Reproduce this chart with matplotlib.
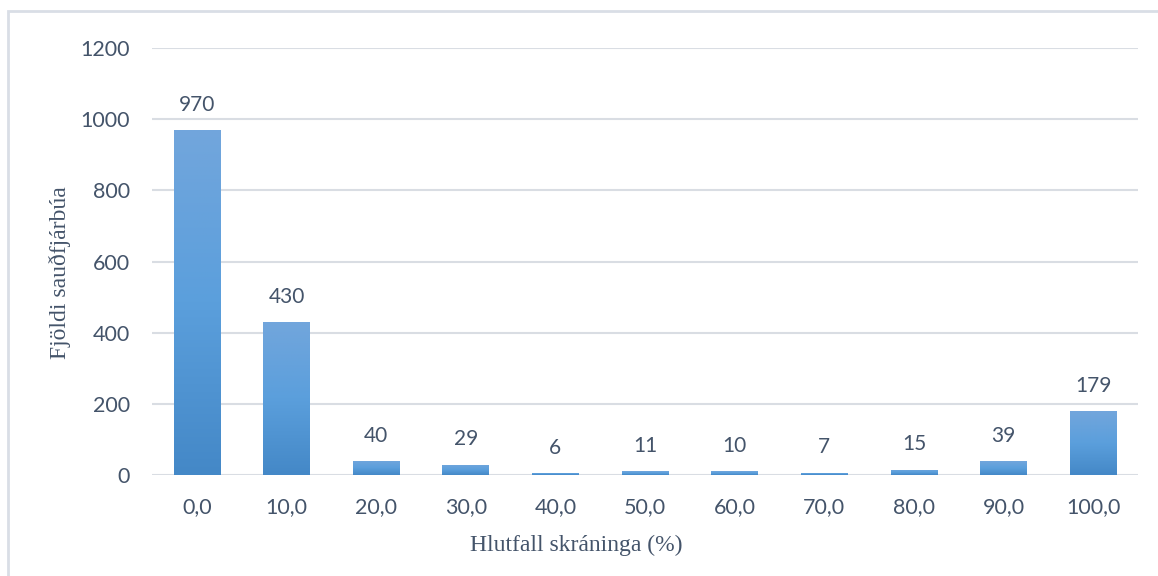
import numpy as np
import matplotlib
matplotlib.use("Agg")
import matplotlib.pyplot as plt
from matplotlib.colors import LinearSegmentedColormap
from matplotlib.patches import Rectangle

# data
categories = ["0,0", "10,0", "20,0", "30,0", "40,0", "50,0", "60,0", "70,0", "80,0", "90,0", "100,0"]
counts = [970, 430, 40, 29, 6, 11, 10, 7, 15, 39, 179]
yticks = [0, 200, 400, 600, 800, 1000, 1200]

text_col = "#44546a"
grid_col = "#d9dde3"
tick_font = "Lato"
title_font = "Liberation Serif"

fig = plt.figure(figsize=(11.58, 5.76), dpi=100)
ax = fig.add_axes([0.1313, 0.1753, 0.8514, 0.7414])

# outer frame of the chart (runs off right and bottom edge)
fig.patches.append(Rectangle((8 / 1158, -0.05), 1.2, (576 - 11) / 576 + 0.05,
                             transform=fig.transFigure, fill=False,
                             edgecolor="#d9dee6", lw=2))

grad = LinearSegmentedColormap.from_list("g", ["#4488c7", "#5b9fdc", "#72a6dc"])
x = np.arange(len(categories))
bars = ax.bar(x, counts, width=0.52, color="none", zorder=2)
for b in bars:
    x0, w, h = b.get_x(), b.get_width(), b.get_height()
    im = ax.imshow(np.linspace(0, 1, 256).reshape(-1, 1), cmap=grad, origin="lower",
                   extent=[x0, x0 + w, 0, h], aspect="auto", zorder=2)
    im.set_clip_path(b)

for xi, v in zip(x, counts):
    ax.annotate(str(v), (xi, v), xytext=(0, 11), textcoords="offset points",
                ha="center", va="bottom", fontsize=15, family=tick_font, color=text_col)

ax.set_xlim(-0.5, len(categories) - 0.5)
ax.set_ylim(0, 1200)
ax.set_yticks(yticks)
ax.set_xticks(x)
ax.set_xticklabels(categories)
ax.grid(axis="y", color=grid_col, lw=1.5, zorder=0)
ax.set_axisbelow(True)
for s in ax.spines.values():
    s.set_visible(False)
ax.tick_params(length=0, labelsize=15.5, colors=text_col)
ax.tick_params(axis="x", pad=16)
ax.tick_params(axis="y", pad=16)
for lab in ax.get_xticklabels() + ax.get_yticklabels():
    lab.set_family(tick_font)

fig.text(576 / 1158, 1 - 545 / 576, "Hlutfall skráninga (%)", family=title_font,
         fontsize=17, color=text_col, ha="center", va="center")
fig.text(60 / 1158, 1 - 273 / 576, "Fjöldi sauðfjárbúa", family=title_font,
         fontsize=17, color=text_col, ha="center", va="center", rotation=90)

fig.savefig("out.png", dpi=100)
